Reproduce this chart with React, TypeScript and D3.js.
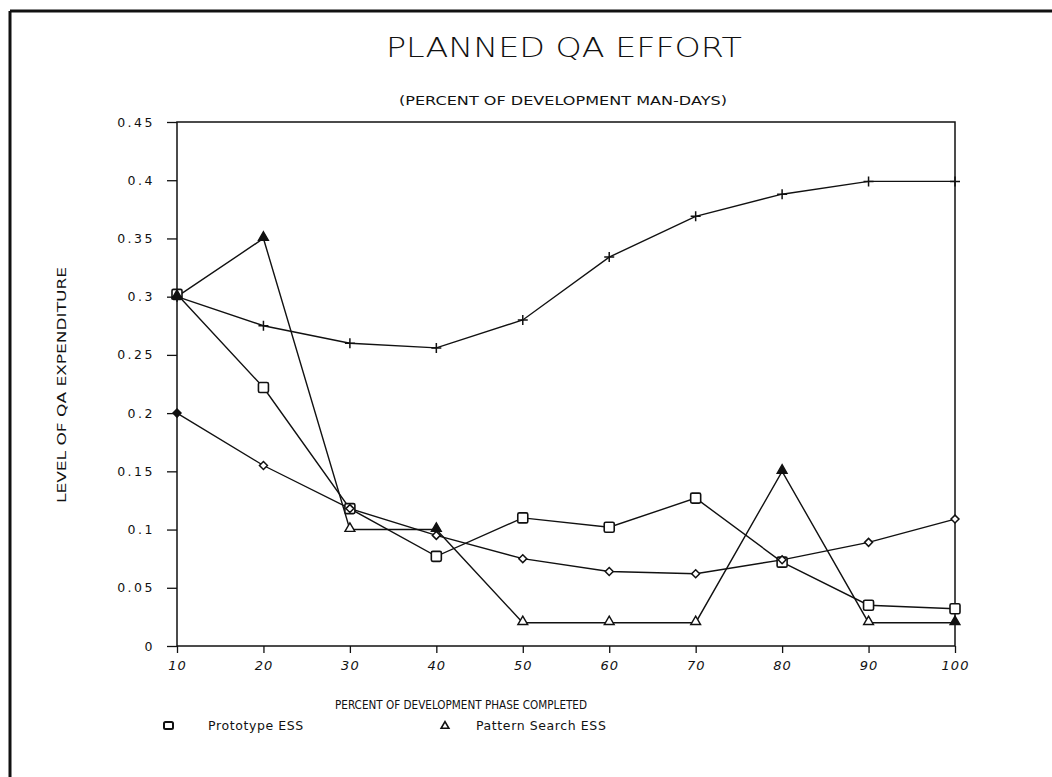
import { useRef, useEffect } from 'react'
import * as d3 from 'd3'

const PHASES = [10, 20, 30, 40, 50, 60, 70, 80, 90, 100]
const PROTOTYPE = [0.302, 0.222, 0.118, 0.077, 0.11, 0.102, 0.127, 0.072, 0.035, 0.032]
const PATTERN = [0.3, 0.35, 0.1, 0.1, 0.02, 0.02, 0.02, 0.15, 0.02, 0.02]
const PLUS_SERIES = [0.3, 0.275, 0.26, 0.256, 0.28, 0.334, 0.369, 0.388, 0.399, 0.399]
const DIAMOND_SERIES = [0.2, 0.155, 0.118, 0.095, 0.075, 0.064, 0.062, 0.074, 0.089, 0.109]
const Y_TICKS = [0, 0.05, 0.1, 0.15, 0.2, 0.25, 0.3, 0.35, 0.4, 0.45]
const Y_LABELS = ['0', '0.05', '0.1', '0.15', '0.2', '0.25', '0.3', '0.35', '0.4', '0.45']

// triangles that came out solid in the print
const SOLID_TRI = [10, 20, 40, 80, 100]

const W = 1052
const H = 777
const PLOT = { left: 177, right: 955, top: 122, bottom: 646 }
const FONT = 'DejaVu Sans, sans-serif'
const INK = '#111'

export default function App() {
  const svgRef = useRef<SVGSVGElement>(null)

  useEffect(() => {
    if (!svgRef.current) return
    const svg = d3.select(svgRef.current)
    svg.selectAll('*').remove()

    const x = d3.scaleLinear().domain([10, 100]).range([PLOT.left, PLOT.right])
    const y = d3.scaleLinear().domain([0, 0.45]).range([PLOT.bottom, PLOT.top])

    svg.append('rect').attr('width', W).attr('height', H).attr('fill', '#fff')

    // outer frame (only left + top edges are in view)
    svg.append('line').attr('x1', 10).attr('x2', W).attr('y1', 11).attr('y2', 11)
      .attr('stroke', INK).attr('stroke-width', 3)
    svg.append('line').attr('x1', 10).attr('x2', 10).attr('y1', 11).attr('y2', H)
      .attr('stroke', INK).attr('stroke-width', 3)

    // titles
    svg.append('text').attr('x', 564).attr('y', 57).attr('text-anchor', 'middle')
      .attr('font-family', FONT).attr('font-size', 27).attr('font-weight', 300)
      .attr('fill', INK).attr('textLength', 356).attr('lengthAdjust', 'spacingAndGlyphs')
      .text('PLANNED QA EFFORT')
    svg.append('text').attr('x', 563).attr('y', 105).attr('text-anchor', 'middle')
      .attr('font-family', FONT).attr('font-size', 11.5)
      .attr('fill', INK).attr('textLength', 328).attr('lengthAdjust', 'spacingAndGlyphs')
      .text('(PERCENT OF DEVELOPMENT MAN-DAYS)')

    // plot frame
    svg.append('rect').attr('x', PLOT.left).attr('y', PLOT.top)
      .attr('width', PLOT.right - PLOT.left).attr('height', PLOT.bottom - PLOT.top)
      .attr('fill', 'none').attr('stroke', INK).attr('stroke-width', 1.5)

    // y axis
    const yAxis = svg.append('g').attr('transform', `translate(${PLOT.left},0)`)
      .call(d3.axisLeft(y).tickValues(Y_TICKS).tickSize(10).tickPadding(12)
        .tickFormat((_, i) => Y_LABELS[i]))
    yAxis.select('.domain').remove()
    yAxis.selectAll('line').attr('stroke', INK).attr('stroke-width', 1.3)
    yAxis.selectAll('text').attr('font-family', FONT).attr('font-size', 12.5)
      .attr('fill', INK).attr('letter-spacing', 2.5)

    // x axis
    const xAxis = svg.append('g').attr('transform', `translate(0,${PLOT.bottom})`)
      .call(d3.axisBottom(x).tickValues(PHASES).tickSize(7).tickPadding(8)
        .tickFormat((d) => String(d)))
    xAxis.select('.domain').remove()
    xAxis.selectAll('line').attr('stroke', INK).attr('stroke-width', 1.3)
    xAxis.selectAll('text').attr('font-family', FONT).attr('font-size', 13)
      .attr('font-style', 'italic').attr('fill', INK).attr('letter-spacing', 1)

    // axis titles
    svg.append('text').attr('x', 461).attr('y', 709).attr('text-anchor', 'middle')
      .attr('font-family', FONT).attr('font-size', 12).attr('fill', INK)
      .attr('textLength', 252).attr('lengthAdjust', 'spacingAndGlyphs')
      .text('PERCENT OF DEVELOPMENT PHASE COMPLETED')
    svg.append('text').attr('transform', 'translate(66,385) rotate(-90)')
      .attr('text-anchor', 'middle')
      .attr('font-family', FONT).attr('font-size', 12).attr('fill', INK)
      .attr('textLength', 236).attr('lengthAdjust', 'spacingAndGlyphs')
      .text('LEVEL OF QA EXPENDITURE')

    // series lines
    const line = d3.line<number>().x((_, i) => x(PHASES[i])).y((d) => y(d))
    ;[PROTOTYPE, PATTERN, PLUS_SERIES, DIAMOND_SERIES].forEach((s) => {
      svg.append('path').datum(s).attr('d', line).attr('fill', 'none')
        .attr('stroke', INK).attr('stroke-width', 1.4)
    })

    const mk = svg.append('g')

    // squares
    mk.selectAll('.sq').data(PROTOTYPE).join('rect').attr('class', 'sq')
      .attr('x', (_, i) => x(PHASES[i]) - 5).attr('y', (d) => y(d) - 5)
      .attr('width', 10).attr('height', 10).attr('rx', 1.5)
      .attr('fill', '#fff').attr('stroke', INK).attr('stroke-width', 1.6)

    // triangles
    const tri = d3.symbol().type(d3.symbolTriangle).size(42)
    mk.selectAll('.tri').data(PATTERN).join('path').attr('class', 'tri')
      .attr('d', tri)
      .attr('transform', (d, i) => `translate(${x(PHASES[i])},${y(d) - 1})`)
      .attr('fill', (_, i) => (SOLID_TRI.includes(PHASES[i]) ? INK : '#fff'))
      .attr('stroke', INK).attr('stroke-width', 1.4)

    // plus markers
    mk.selectAll('.pl').data(PLUS_SERIES).join('path').attr('class', 'pl')
      .attr('d', (d, i) => {
        const cx = x(PHASES[i])
        const cy = y(d)
        return `M${cx - 5},${cy}H${cx + 5}M${cx},${cy - 5}V${cy + 5}`
      })
      .attr('stroke', INK).attr('stroke-width', 1.5)

    // diamonds
    const diamond = d3.symbol().type(d3.symbolDiamond2).size(40)
    mk.selectAll('.dm').data(DIAMOND_SERIES).join('path').attr('class', 'dm')
      .attr('d', diamond)
      .attr('transform', (d, i) => `translate(${x(PHASES[i])},${y(d)})`)
      .attr('fill', (_, i) => (i === 0 ? INK : '#fff'))
      .attr('stroke', INK).attr('stroke-width', 1.5)

    // legend
    const lg = svg.append('g').attr('font-family', FONT).attr('font-size', 12.5).attr('fill', INK)
    lg.append('rect').attr('x', 164).attr('y', 722).attr('width', 9).attr('height', 7).attr('rx', 1.5)
      .attr('fill', '#fff').attr('stroke', INK).attr('stroke-width', 2)
    lg.append('text').attr('x', 208).attr('y', 730).attr('letter-spacing', 0.6).text('Prototype ESS')
    lg.append('path').attr('d', d3.symbol().type(d3.symbolTriangle).size(26))
      .attr('transform', 'translate(445,726)').attr('fill', '#fff')
      .attr('stroke', INK).attr('stroke-width', 1.6)
    lg.append('text').attr('x', 476).attr('y', 730).attr('letter-spacing', 0.6).text('Pattern Search ESS')
  }, [])

  return (
    <div style={{ position: 'absolute', left: 0, top: 0 }}>
      <svg ref={svgRef} width={W} height={H} style={{ display: 'block' }} />
    </div>
  )
}
